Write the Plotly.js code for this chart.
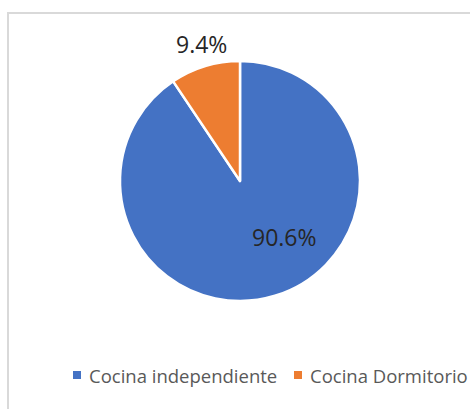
<!DOCTYPE html>
<html>
<head>
<meta charset="utf-8">
<script src="https://cdn.plot.ly/plotly-3.0.1.min.js"></script>
<style>
  html, body { margin: 0; padding: 0; background: #ffffff; }
  #frame { position: absolute; left: 7px; top: 12px; width: 480px; height: 420px; border: 2px solid #d9d9d9; box-sizing: border-box; }
  #chart { position: absolute; left: 0; top: 0; width: 470px; height: 409px; }
</style>
</head>
<body>
<div id="frame"></div>
<div id="chart"></div>
<script>
const categories = ["Cocina independiente", "Cocina Dormitorio"];
const values = [90.6, 9.4];
const colors = ["#4472c4", "#ed7d31"];

const W = 470, H = 409;
const FONT = "Open Sans, Liberation Sans, sans-serif";
const total = values.reduce((a, b) => a + b, 0);
const pct = values.map(v => (100 * v / total).toFixed(1) + "%");

// label anchor points (pixels) for the data labels
const labelPos = [[284, 237], [201, 44]];
// legend layout (pixels)
const legendMarkerX = [73, 294];
const legendTextX = [88, 309];
const legendY = 375;

const trace = {
  type: "pie",
  labels: categories,
  values: values,
  sort: false,
  direction: "clockwise",
  rotation: 0,
  marker: { colors: colors, line: { color: "#ffffff", width: 2.5 } },
  textinfo: "none",
  hoverinfo: "none",
  showlegend: false,
  domain: { x: [120 / W, 360 / W], y: [108 / H, 348 / H] }
};

const annotations = [];
const shapes = [];
pct.forEach((t, i) => {
  annotations.push({
    xref: "paper", yref: "paper",
    x: labelPos[i][0] / W, y: 1 - labelPos[i][1] / H,
    xanchor: "center", yanchor: "middle",
    text: t, showarrow: false,
    font: { family: FONT, size: 23, color: "#262626" }
  });
});
categories.forEach((c, i) => {
  shapes.push({
    type: "rect", xref: "paper", yref: "paper",
    x0: legendMarkerX[i] / W, x1: (legendMarkerX[i] + 8) / W,
    y0: 1 - (legendY - 4) / H, y1: 1 - (legendY + 4) / H,
    fillcolor: colors[i], line: { width: 0 }
  });
  annotations.push({
    xref: "paper", yref: "paper",
    x: legendTextX[i] / W, y: 1 - legendY / H,
    xanchor: "left", yanchor: "middle",
    text: c, showarrow: false, borderpad: 0,
    font: { family: FONT, size: 18.5, color: "#595959" }
  });
});

const layout = {
  width: W,
  height: H,
  margin: { l: 0, r: 0, t: 0, b: 0 },
  paper_bgcolor: "rgba(0,0,0,0)",
  plot_bgcolor: "rgba(0,0,0,0)",
  showlegend: false,
  annotations: annotations,
  shapes: shapes
};

Plotly.newPlot("chart", [trace], layout, { displayModeBar: false, staticPlot: true });
</script>
</body>
</html>
